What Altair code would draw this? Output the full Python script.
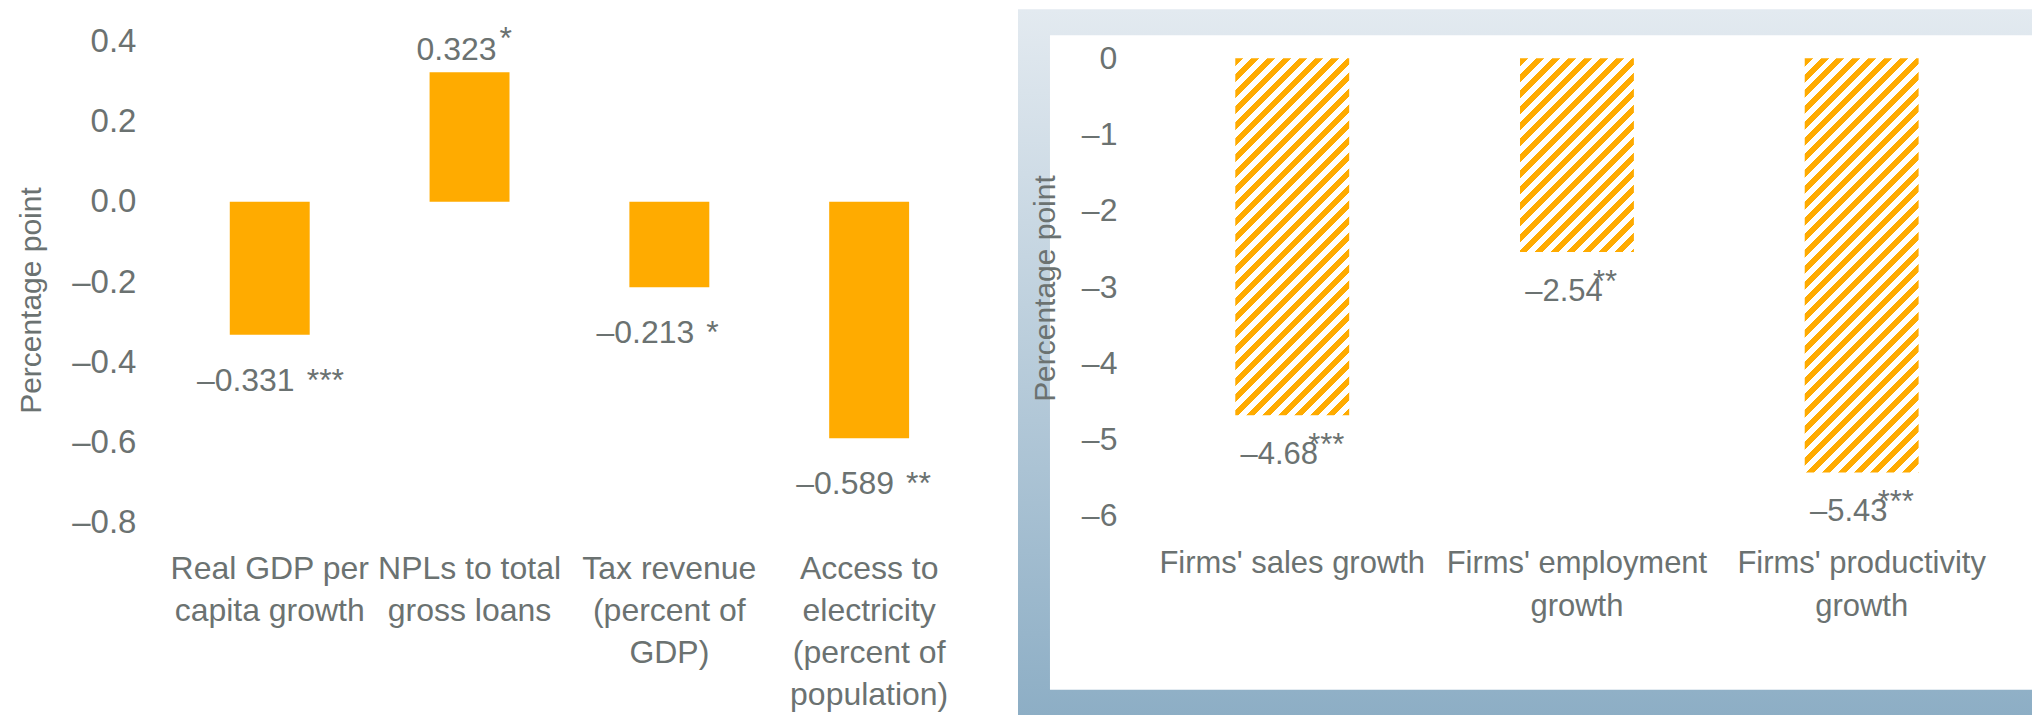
import altair as alt
import pandas as pd

# ---------------- data ----------------
left_cats = ["Real GDP per|capita growth", "NPLs to total|gross loans",
             "Tax revenue|(percent of|GDP)", "Access to|electricity|(percent of|population)"]
left_vals = [-0.331, 0.323, -0.213, -0.589]
left_stars = ["***", "*", "*", "**"]
left_ticks = [0.4, 0.2, 0.0, -0.2, -0.4, -0.6, -0.8]

right_cats = ["Firms' sales growth", "Firms' employment|growth", "Firms' productivity|growth"]
right_vals = [-4.68, -2.54, -5.43]
right_stars = ["***", "**", "***"]
right_ticks = [0, -1, -2, -3, -4, -5, -6]

# ---------------- style ----------------
GRAY = "#6b7271"
ORANGE = "#FFAB00"
FONT = "Liberation Sans, Arial, sans-serif"

L_W, L_H = 800, 482
R_W, R_H = 855, 475
R_PPU = 458 / 6.0
R_TOP = (R_H - 458) / R_PPU
R_BAND = 0.4 * R_W / 3.0


def fmt(v, d):
    s = f"{abs(v):.{d}f}"
    return ("\u2013" + s) if v < 0 else s


def hatch(w, h, period=16.0, duty=0.5, color=ORANGE):
    L = w + h
    p = period / L
    stops = []
    k = 0
    while k * p < 1:
        a = k * p
        b = min(a + duty * p, 1.0)
        c = min(a + p, 1.0)
        stops.append(alt.GradientStop(offset=a, color=color))
        stops.append(alt.GradientStop(offset=b, color=color))
        if b < 1.0:
            stops.append(alt.GradientStop(offset=b, color="white"))
            stops.append(alt.GradientStop(offset=c, color="white"))
        k += 1
    x2 = w * L / (w * w + h * h)
    y2 = h * L / (w * w + h * h)
    return alt.Gradient(gradient="linear", stops=stops, x1=0, y1=0, x2=x2, y2=y2)


left_df = pd.DataFrame({"cat": left_cats, "v": left_vals,
                        "num": [fmt(v, 3) for v in left_vals], "stars": left_stars})
right_df = pd.DataFrame({"cat": right_cats, "v": right_vals,
                         "num": [fmt(v, 2) for v in right_vals], "stars": right_stars})
one = pd.DataFrame({"a": [0]})

# ---------------- left panel ----------------
xl = alt.X("cat:N", sort=left_cats,
           scale=alt.Scale(paddingInner=0.6, paddingOuter=0.3),
           axis=alt.Axis(title=None, labelExpr="split(datum.label, '|')", labelAngle=0,
                         labelFont=FONT, labelFontSize=32, labelColor=GRAY,
                         labelPadding=31, labelLineHeight=42, labelLimit=600,
                         domain=False, ticks=False, grid=False, zindex=1))
yl = alt.Y("v:Q", scale=alt.Scale(domain=[-0.8, 0.4], nice=False, zero=False),
           axis=alt.Axis(values=left_ticks,
                         labelExpr="(datum.value < 0 ? '\u2013' : '') + format(abs(datum.value), '.1f')",
                         labelFont=FONT, labelFontSize=33, labelColor=GRAY, labelPadding=34,
                         title="Percentage point", titleFont=FONT, titleFontSize=30,
                         titleFontWeight="normal", titleColor=GRAY, titleX=-129, titleY=259,
                         titleBaseline="alphabetic",
                         domain=False, ticks=False, grid=False, zindex=1))

left_anchor = alt.Chart(one).mark_rect(fill="white").encode(
    x=alt.value(-161), x2=alt.value(-150), y=alt.value(-32), y2=alt.value(-20))
left_bars = alt.Chart(left_df).mark_bar(color=ORANGE).encode(x=xl, y=yl, y2=alt.datum(0))
txt = dict(font=FONT, fontSize=32, color=GRAY, baseline="alphabetic")
left_neg = alt.Chart(left_df).transform_filter("datum.v < 0").mark_text(
    dy=56, dx=-24, **txt).encode(x=alt.X("cat:N", sort=left_cats), y="v:Q", text="num:N")
left_pos = alt.Chart(left_df).transform_filter("datum.v >= 0").mark_text(
    dy=-12, dx=-13, **txt).encode(x=alt.X("cat:N", sort=left_cats), y="v:Q", text="num:N")
left_sneg = alt.Chart(left_df).transform_filter("datum.v < 0").mark_text(
    align="left", dy=56, dx=37, **txt).encode(
    x=alt.X("cat:N", sort=left_cats), y="v:Q", text="stars:N")
left_spos = alt.Chart(left_df).transform_filter("datum.v >= 0").mark_text(
    align="left", dy=-23, dx=30, **txt).encode(
    x=alt.X("cat:N", sort=left_cats), y="v:Q", text="stars:N")

left = alt.layer(left_anchor, left_bars, left_neg, left_pos, left_sneg, left_spos).properties(
    width=L_W, height=L_H)

# ---------------- right panel ----------------
xr = alt.X("cat:N", sort=right_cats,
           scale=alt.Scale(paddingInner=0.6, paddingOuter=0.3),
           axis=alt.Axis(title=None, labelExpr="split(datum.label, '|')", labelAngle=0,
                         labelFont=FONT, labelFontSize=31, labelColor=GRAY,
                         labelPadding=33, labelLineHeight=43, labelLimit=600,
                         domain=False, ticks=False, grid=False, zindex=1))
yr = alt.Y("v:Q", scale=alt.Scale(domain=[-6, R_TOP], nice=False, zero=False),
           axis=alt.Axis(values=right_ticks,
                         labelExpr="(datum.value < 0 ? '\u2013' : '') + format(abs(datum.value), 'd')",
                         labelFont=FONT, labelFontSize=32, labelColor=GRAY, labelPadding=33,
                         title="Percentage point", titleFont=FONT, titleFontSize=30,
                         titleFontWeight="normal", titleColor=GRAY, titleX=-95, titleY=247,
                         titleBaseline="alphabetic",
                         domain=False, ticks=False, grid=False, zindex=1))

frame = alt.Chart(one).mark_rect(
    fill=alt.Gradient(gradient="linear", x1=0, y1=0, x2=0, y2=1,
                      stops=[alt.GradientStop(offset=0, color="#e3eaf0"),
                             alt.GradientStop(offset=1, color="#8daec5")])).encode(
    x=alt.value(-132), x2=alt.value(883), y=alt.value(-32), y2=alt.value(675))
inner = alt.Chart(one).mark_rect(fill="white").encode(
    x=alt.value(-100), x2=alt.value(883), y=alt.value(-6), y2=alt.value(649))

right_layers = [frame, inner]
for c, v in zip(right_cats, right_vals):
    h = abs(v) * R_PPU
    right_layers.append(
        alt.Chart(right_df).transform_filter(alt.FieldEqualPredicate(field="cat", equal=c))
        .mark_bar(fill=hatch(R_BAND, h))
        .encode(x=xr, y=yr, y2=alt.datum(0)))

txt_r = dict(font=FONT, fontSize=31, color=GRAY, baseline="alphabetic")
right_num = alt.Chart(right_df).mark_text(dy=49, dx=-13, **txt_r).encode(
    x=alt.X("cat:N", sort=right_cats), y="v:Q", text="num:N")
right_st = alt.Chart(right_df).mark_text(align="left", dy=40, dx=16, **txt_r).encode(
    x=alt.X("cat:N", sort=right_cats), y="v:Q", text="stars:N")
right_layers += [right_num, right_st]

right = alt.layer(*right_layers).properties(width=R_W, height=R_H)

chart = alt.hconcat(left, right, spacing=181, bounds="flush").properties(
    padding={"left": 0, "top": 0, "right": 0, "bottom": 0}, background="white"
).configure_view(stroke="transparent")

chart.save("out.html", embed_options={"renderer": "svg", "actions": False})
